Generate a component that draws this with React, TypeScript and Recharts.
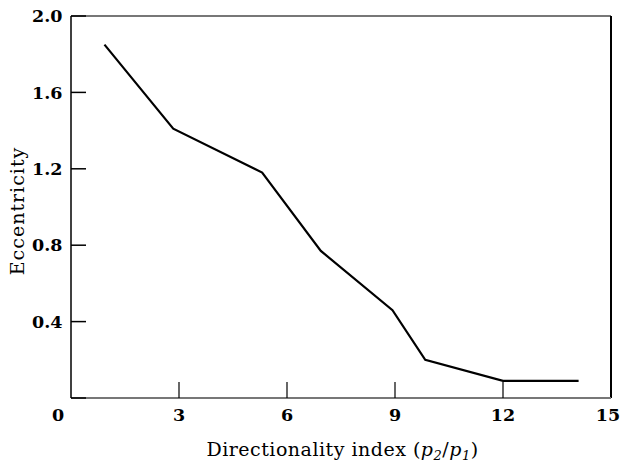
import React from "react";
import { LineChart, Line, XAxis, YAxis, ReferenceLine, Label } from "recharts";

const directionality = [0.93, 2.84, 5.31, 6.94, 8.93, 9.84, 12.0, 14.1];
const eccentricity = [1.85, 1.41, 1.18, 0.77, 0.46, 0.2, 0.09, 0.09];
const xTicks = [0, 3, 6, 9, 12, 15];
const yTicks = [0, 0.4, 0.8, 1.2, 1.6, 2.0];
const xTitle = "Directionality index (";
const yTitle = "Eccentricity";

const data = directionality.map((d, i) => ({ x: d, y: eccentricity[i] }));

const FONT = "'DejaVu Serif', serif";

const XTick = (props: any) => {
  const { x, y, payload } = props;
  const v = payload.value;
  const dx = v === 0 ? -13 : v === 15 ? -3 : 0;
  return (
    <g>
      {v !== 0 && v !== 15 && (
        <line x1={x} x2={x} y1={y} y2={y - 16} stroke="#000" strokeWidth={1.2} />
      )}
      <text
        x={x + dx}
        y={y + 23}
        textAnchor="middle"
        fontFamily={FONT}
        fontWeight="bold"
        fontSize={17.5}
        fill="#000"
      >
        {String(v)}
      </text>
    </g>
  );
};

const YTick = (props: any) => {
  const { x, y, payload } = props;
  const v = payload.value;
  return (
    <g>
      <line x1={x} x2={x + 15} y1={y} y2={y} stroke="#000" strokeWidth={1.5} />
      {v !== 0 && (
        <text
          x={x - 8.5}
          y={y}
          dy={6.2}
          textAnchor="end"
          fontFamily={FONT}
          fontWeight="bold"
          fontSize={17.5}
          fill="#000"
        >
          {v.toFixed(1)}
        </text>
      )}
    </g>
  );
};

const XTitle = () => (
  <text
    x={342.5}
    y={455.5}
    textAnchor="middle"
    fontFamily={FONT}
    fontSize={19}
    letterSpacing={0.5}
    fill="#000"
  >
    {xTitle}
    <tspan fontStyle="italic">p</tspan>
    <tspan fontStyle="italic" fontSize={13} dy={4}>2</tspan>
    <tspan dy={-4}>/</tspan>
    <tspan fontStyle="italic">p</tspan>
    <tspan fontStyle="italic" fontSize={13} dy={4}>1</tspan>
    <tspan dy={-4}>)</tspan>
  </text>
);

const YTitle = () => (
  <text
    x={23.5}
    y={211}
    transform="rotate(-90, 23.5, 211)"
    textAnchor="middle"
    fontFamily={FONT}
    fontSize={19}
    letterSpacing={1}
    fill="#000"
  >
    {yTitle}
  </text>
);

export default function App() {
  return (
    <div style={{ position: "absolute", left: 0, top: 0, width: 623, height: 461 }}>
      <LineChart
        width={623}
        height={461}
        data={data}
        margin={{ top: 16, right: 12, left: 8, bottom: 0 }}
      >
        <XAxis
          dataKey="x"
          type="number"
          domain={[0, 15]}
          ticks={xTicks}
          interval={0}
          tickSize={0}
          tickMargin={0}
          tickLine={false}
          tick={<XTick />}
          height={63}
          axisLine={{ stroke: "#777", strokeWidth: 2 }}
        >
          <Label content={<XTitle />} />
        </XAxis>
        <YAxis
          dataKey="y"
          type="number"
          domain={[0, 2]}
          ticks={yTicks}
          interval={0}
          tickSize={0}
          tickMargin={0}
          tickLine={false}
          tick={<YTick />}
          width={63}
          axisLine={{ stroke: "#000", strokeWidth: 1.5 }}
        >
          <Label content={<YTitle />} />
        </YAxis>
        <ReferenceLine y={2} stroke="#777" strokeWidth={2} ifOverflow="visible" />
        <ReferenceLine x={15} stroke="#000" strokeWidth={2} ifOverflow="visible" />
        <Line
          dataKey="y"
          type="linear"
          stroke="#000"
          strokeWidth={2.2}
          dot={false}
          isAnimationActive={false}
        />
      </LineChart>
    </div>
  );
}
